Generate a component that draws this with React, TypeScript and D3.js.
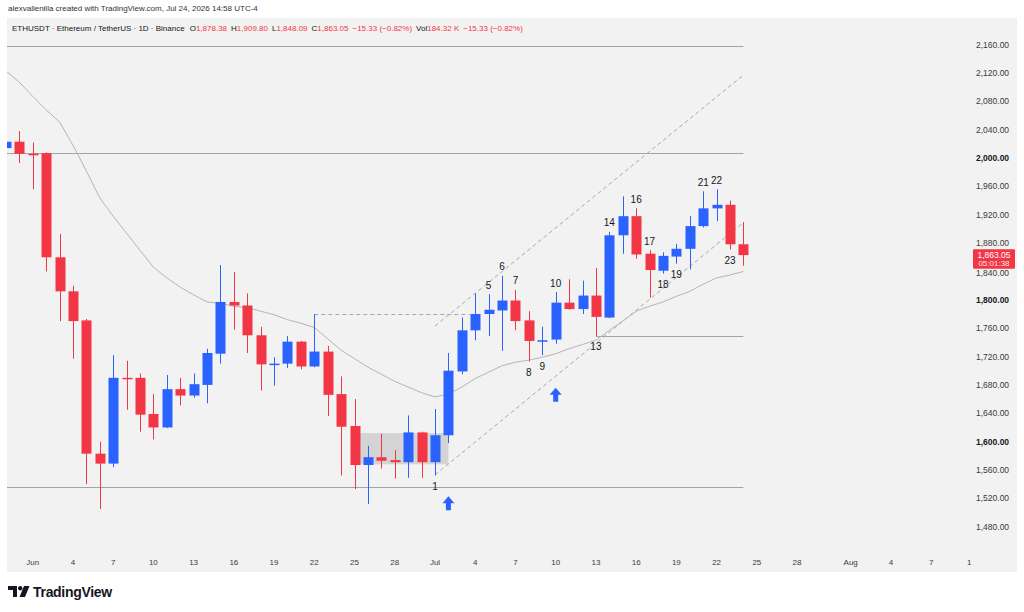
import * as d3 from "d3"

// daily candles, ETHUSDT 1D
const dates = [
  "2026-05-30", "2026-05-31", "2026-06-01", "2026-06-02", "2026-06-03", "2026-06-04", "2026-06-05", "2026-06-06",
  "2026-06-07", "2026-06-08", "2026-06-09", "2026-06-10", "2026-06-11", "2026-06-12", "2026-06-13", "2026-06-14",
  "2026-06-15", "2026-06-16", "2026-06-17", "2026-06-18", "2026-06-19", "2026-06-20", "2026-06-21", "2026-06-22",
  "2026-06-23", "2026-06-24", "2026-06-25", "2026-06-26", "2026-06-27", "2026-06-28", "2026-06-29", "2026-06-30",
  "2026-07-01", "2026-07-02", "2026-07-03", "2026-07-04", "2026-07-05", "2026-07-06", "2026-07-07", "2026-07-08",
  "2026-07-09", "2026-07-10", "2026-07-11", "2026-07-12", "2026-07-13", "2026-07-14", "2026-07-15", "2026-07-16",
  "2026-07-17", "2026-07-18", "2026-07-19", "2026-07-20", "2026-07-21", "2026-07-22", "2026-07-23", "2026-07-24",
]

const opens = [
  2014, 2023, 2006, 2007, 1860, 1812, 1771, 1583,
  1569, 1690, 1690, 1639, 1620, 1674, 1665, 1680,
  1724, 1797, 1792, 1750, 1709, 1710, 1741, 1706,
  1727, 1667, 1622, 1567, 1578, 1574, 1571, 1613,
  1571, 1609, 1699, 1757, 1780, 1785, 1799, 1771,
  1742, 1744, 1796, 1787, 1806, 1775, 1891, 1918,
  1865, 1841, 1861, 1872, 1904, 1929, 1934, 1878.38,
]
const highs = [
  2026, 2038, 2022, 2008, 1893, 1820, 1773, 1600,
  1722, 1714, 1696, 1667, 1694, 1690, 1696, 1731,
  1849, 1839, 1809, 1762, 1719, 1749, 1742, 1780,
  1735, 1692, 1660, 1594, 1611, 1588, 1637, 1614,
  1646, 1725, 1775, 1809, 1808, 1834, 1814, 1784,
  1762, 1811, 1829, 1827, 1845, 1896, 1946, 1929,
  1870, 1867, 1879, 1918, 1953, 1956, 1940, 1909.8,
]
const lows = [
  2010, 1993, 1956, 1840, 1770, 1717, 1540, 1505,
  1564, 1645, 1614, 1603, 1619, 1651, 1662, 1654,
  1710, 1758, 1725, 1672, 1679, 1704, 1702, 1705,
  1636, 1552, 1533, 1512, 1562, 1548, 1549, 1549,
  1552, 1598, 1695, 1743, 1749, 1728, 1757, 1713,
  1722, 1738, 1786, 1780, 1749, 1774, 1865, 1858,
  1803, 1837, 1851, 1843, 1902, 1911, 1871, 1848.09,
]
const closes = [
  2023, 2006, 2005, 1860, 1812, 1770, 1583, 1569,
  1690, 1688, 1638, 1620, 1674, 1665, 1681, 1725,
  1797, 1792, 1750, 1709, 1710, 1741, 1706, 1727,
  1666, 1621, 1567, 1578, 1573, 1571, 1613, 1571,
  1609, 1700, 1757, 1780, 1786, 1799, 1770, 1742,
  1743, 1796, 1787, 1806, 1776, 1891, 1918, 1864,
  1842, 1862, 1872, 1904, 1929, 1934, 1878.38, 1863.05,
]

// moving average, one value per candle
const maValues = [
  2123, 2107, 2087, 2068, 2051, 2018, 1982, 1944,
  1918, 1894, 1870, 1846, 1831, 1818, 1807, 1797,
  1795, 1791, 1789, 1784, 1779, 1772, 1767, 1761,
  1745, 1729, 1717, 1705, 1695, 1685, 1677, 1669,
  1663, 1667, 1677, 1689, 1698, 1707, 1712, 1715,
  1719, 1724, 1731, 1737, 1743, 1757, 1770, 1784,
  1791, 1797, 1805, 1812, 1822, 1831, 1835, 1840,
]

const priceTicks = [
  1480, 1520, 1560, 1600, 1640, 1680, 1720, 1760, 1800,
  1840, 1880, 1920, 1960, 2000, 2040, 2080, 2120, 2160,
]
const strongTicks = [1600, 1800, 2000]

const timeTicks = [
  "2026-06-01", "2026-06-04", "2026-06-07", "2026-06-10", "2026-06-13", "2026-06-16", "2026-06-19",
  "2026-06-22", "2026-06-25", "2026-06-28", "2026-07-01", "2026-07-04", "2026-07-07", "2026-07-10",
  "2026-07-13", "2026-07-16", "2026-07-19", "2026-07-22", "2026-07-25", "2026-07-28", "2026-08-01",
  "2026-08-04", "2026-08-07", "2026-08-10",
]

// counted swings
const countDates = [
  "2026-07-01", "2026-07-05", "2026-07-06", "2026-07-07", "2026-07-08", "2026-07-09", "2026-07-10", "2026-07-13",
  "2026-07-14", "2026-07-16", "2026-07-17", "2026-07-18", "2026-07-19", "2026-07-21", "2026-07-22", "2026-07-23",
]
const countTexts = ["1", "5", "6", "7", "8", "9", "10", "13", "14", "16", "17", "18", "19", "21", "22", "23"]
const countSides = [
  "below", "above", "above", "above", "below", "below", "above", "below",
  "above", "above", "above", "below", "below", "above", "above", "below",
]

// drawings: solid levels [startDate, endDate, price]
const levelStarts = ["2026-05-20", "2026-05-20", "2026-05-20", "2026-07-13"]
const levelEnds = ["2026-07-24", "2026-07-24", "2026-07-24", "2026-07-24"]
const levelPrices = [2158, 2007, 1536, 1749]

// channel rails (start, end)
const channelDates = ["2026-07-01", "2026-07-24"]
const channelLower = [1553, 1909]
const channelUpper = [1763, 2117]

// dashed breakout level
const breakoutDates = ["2026-06-22", "2026-07-03T14:00"]
const breakoutPrice = 1780

// consolidation box
const boxDates = ["2026-06-25T10:00", "2026-07-02"]
const boxPrices = [1568, 1612]

// arrow markers
const arrowDates = ["2026-07-02", "2026-07-10"]
const arrowPrices = [1523, 1676]

const volumeLabel = "184.32 K"
const countdown = "05:01:38"

const RED = "#f23645"
const BLUE = "#2962ff"

const parse = (s: string) => new Date(s.length > 10 ? s + ":00Z" : s + "T00:00:00Z")

const fmt = d3.format(",.2f")
const monthFmt = d3.utcFormat("%b")

export default function App() {
  const width = 1024
  const height = 612

  const x = d3
    .scaleUtc()
    .domain([parse("2026-06-01"), parse("2026-08-01")])
    .range([32.7, 850.7])
  const y = d3.scaleLinear().domain([1480, 2160]).range([526.7, 44.6])

  const bodyW = 10

  const maLine = d3
    .line<number>()
    .x((_, i) => x(parse(dates[i])))
    .y((d) => y(d))

  const last = closes.length - 1
  const change = closes[last] - closes[last - 1]
  const pct = (change / closes[last - 1]) * 100
  const sign = (v: number) => (v < 0 ? "−" : "+")
  const changeText = `${sign(change)}${Math.abs(change).toFixed(2)} (${sign(pct)}${Math.abs(pct).toFixed(2)}%)`

  const arrow = (cx: number, ty: number) =>
    `M${cx},${ty} L${cx + 6},${ty + 7} L${cx + 2.5},${ty + 7} L${cx + 2.5},${ty + 14} L${cx - 2.5},${ty + 14} L${cx - 2.5},${ty + 7} L${cx - 6},${ty + 7} Z`

  const lastY = y(closes[last])

  return (
    <svg
      width={width}
      height={height}
      style={{ position: "absolute", left: 0, top: 0, fontFamily: "'Liberation Sans', Arial, sans-serif" }}
    >
      <rect width={width} height={height} fill="#fff" />
      <text x={8} y={11} fontSize={8} fill="#333">
        alexvallenilla created with TradingView.com, Jul 24, 2026 14:58 UTC-4
      </text>

      <rect x={7} y={18} width={1010} height={554} fill="#f2f2f2" />

      <defs>
        <clipPath id="plot">
          <rect x={7} y={18} width={964} height={532} />
        </clipPath>
        <clipPath id="timeclip">
          <rect x={7} y={550} width={964} height={22} />
        </clipPath>
      </defs>

      <g clipPath="url(#plot)">
        {/* horizontal levels */}
        {levelPrices.map((p, i) => (
          <line
            key={"lv" + i}
            x1={Math.max(7, x(parse(levelStarts[i])))}
            x2={x(parse(levelEnds[i]))}
            y1={Math.round(y(p)) + 0.5}
            y2={Math.round(y(p)) + 0.5}
            stroke="#a3a3a3"
            strokeWidth={1}
          />
        ))}

        {/* consolidation box */}
        <rect
          x={x(parse(boxDates[0]))}
          y={y(boxPrices[1])}
          width={x(parse(boxDates[1])) - x(parse(boxDates[0]))}
          height={y(boxPrices[0]) - y(boxPrices[1])}
          fill="#d4d4d4"
        />

        {/* breakout level */}
        <line
          x1={x(parse(breakoutDates[0]))}
          x2={x(parse(breakoutDates[1]))}
          y1={Math.round(y(breakoutPrice)) + 0.5}
          y2={Math.round(y(breakoutPrice)) + 0.5}
          stroke="#a8a8a8"
          strokeDasharray="4,3"
        />

        {/* channel */}
        {[channelLower, channelUpper].map((rail, i) => (
          <line
            key={"ch" + i}
            x1={x(parse(channelDates[0]))}
            x2={x(parse(channelDates[1]))}
            y1={y(rail[0])}
            y2={y(rail[1])}
            stroke="#a8a8a8"
            strokeDasharray="4,3"
          />
        ))}

        {/* moving average */}
        <path d={maLine(maValues) ?? ""} fill="none" stroke="#b5b5b5" strokeWidth={1} />

        {/* candles */}
        {dates.map((d, i) => {
          const cx = Math.round(x(parse(d)))
          const up = closes[i] >= opens[i]
          const color = up ? BLUE : RED
          const top = y(Math.max(opens[i], closes[i]))
          const bot = y(Math.min(opens[i], closes[i]))
          return (
            <g key={d}>
              <line x1={cx + 0.5} x2={cx + 0.5} y1={y(highs[i])} y2={y(lows[i])} stroke={color} strokeWidth={1} />
              <rect x={cx - bodyW / 2 + 0.5} y={top} width={bodyW} height={Math.max(1.5, bot - top)} fill={color} />
            </g>
          )
        })}

        {/* swing counts */}
        {countDates.map((d, i) => {
          const idx = dates.indexOf(d)
          const above = countSides[i] === "above"
          const ty = above ? y(highs[idx]) - 9 : y(lows[idx]) + 11
          return (
            <text
              key={"c" + i}
              x={x(parse(d))}
              y={ty}
              textAnchor="middle"
              dominantBaseline="central"
              fontSize={10}
              fill="#131722"
            >
              {countTexts[i]}
            </text>
          )
        })}

        {/* arrows */}
        {arrowDates.map((d, i) => (
          <path key={"a" + i} d={arrow(x(parse(d)), y(arrowPrices[i]))} fill={BLUE} />
        ))}
      </g>

      {/* legend */}
      <text x={12} y={31} fontSize={8} fill="#131722">
        <tspan>ETHUSDT · Ethereum / TetherUS · 1D · Binance</tspan>
        <tspan dx={5}>O</tspan>
        <tspan fill={RED}>{fmt(opens[last])}</tspan>
        <tspan dx={4}>H</tspan>
        <tspan fill={RED}>{fmt(highs[last])}</tspan>
        <tspan dx={4}>L</tspan>
        <tspan fill={RED}>{fmt(lows[last])}</tspan>
        <tspan dx={4}>C</tspan>
        <tspan fill={RED}>{fmt(closes[last])}</tspan>
        <tspan dx={4} fill={RED}>
          {changeText}
        </tspan>
        <tspan dx={4}>Vol</tspan>
        <tspan fill={RED}>{volumeLabel}</tspan>
        <tspan dx={4} fill={RED}>
          {changeText}
        </tspan>
      </text>

      {/* price scale */}
      {priceTicks.map((p) => (
        <text
          key={"p" + p}
          x={976}
          y={p === 1840 ? y(p) + 2 : y(p)}
          dominantBaseline="central"
          fontSize={8.5}
          fill={strongTicks.includes(p) ? "#131722" : "#3a3a3a"}
          fontWeight={strongTicks.includes(p) ? 700 : 400}
        >
          {fmt(p)}
        </text>
      ))}
      <rect x={973} y={lastY - 6} width={42} height={19.5} fill={RED} rx={1} />
      <text x={994} y={lastY} textAnchor="middle" dominantBaseline="central" fontSize={8.5} fill="#fff">
        {fmt(closes[last])}
      </text>
      <text
        x={994}
        y={lastY + 8.5}
        textAnchor="middle"
        dominantBaseline="central"
        fontSize={8}
        fill="#fff"
        opacity={0.85}
      >
        {countdown}
      </text>

      {/* time scale */}
      <g clipPath="url(#timeclip)">
        {timeTicks.map((t) => {
          const dt = parse(t)
          const label = dt.getUTCDate() === 1 ? monthFmt(dt) : String(dt.getUTCDate())
          return (
            <text
              key={t}
              x={x(dt)}
              y={562}
              textAnchor="middle"
              dominantBaseline="central"
              fontSize={8}
              fill="#3a3a3a"
            >
              {label}
            </text>
          )
        })}
      </g>

      {/* footer logo */}
      <g fill="#131722">
        <path d="M8,586 H17 V597 H13 V590 H8 Z" />
        <circle cx={20.2} cy={588.2} r={2.2} />
        <path d="M24,586 H29.5 L25,597 H19.5 Z" />
        <text x={33} y={596.5} fontSize={14} fontWeight={700} letterSpacing={-0.3}>
          TradingView
        </text>
      </g>
    </svg>
  )
}
